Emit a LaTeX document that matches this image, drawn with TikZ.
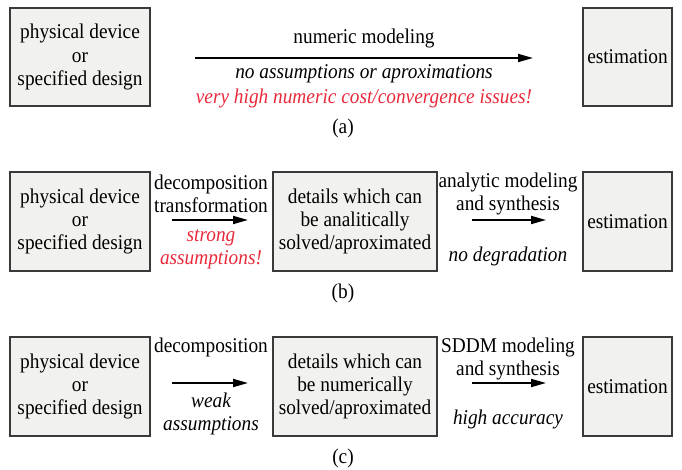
\documentclass[tikz,border=0pt]{standalone}
\usepackage{fontspec}
\setmainfont[FakeStretch=0.92]{Liberation Serif}
\usetikzlibrary{arrows.meta}
\definecolor{boxfill}{HTML}{F1F1EF}
\definecolor{boxline}{HTML}{3A3A3A}
\definecolor{warnred}{HTML}{E8293A}
\newcommand{\mysz}{\fontsize{21}{23.3}\selectfont}
\tikzset{
  box/.style={draw=boxline, fill=boxfill, line width=1.4pt, inner sep=0pt, align=center},
  lbl/.style={inner sep=0pt, align=center},
  itl/.style={lbl, font=\mysz\itshape},
  warn/.style={itl, text=warnred},
  arr/.style={line width=1.8pt, -{Triangle[length=15pt,width=8pt]}},
}
\begin{document}
\begin{tikzpicture}[x=1pt,y=-1pt,font=\mysz]
\useasboundingbox (0,0) rectangle (682,470);
% ---- (a)
\node[box, minimum width=140pt, minimum height=98pt] (aL) at (80,57) {physical device\\or\\specified design};
\node[box, minimum width=89pt, minimum height=98pt] (aE) at (627.5,57) {estimation};
\coordinate (a1) at (195,58);
\coordinate (a2) at (533,58);
\draw[arr] (a1) -- (a2);
\node[lbl] (aT) at (364,38) {numeric modeling};
\node[itl] (aB) at (364,74) {no assumptions or aproximations};
\node[warn] (aR) at (364,98) {very high numeric cost/convergence issues!};
\node[lbl] (aC) at (343,128) {(a)};
% ---- (b)
\node[box, minimum width=140pt, minimum height=99pt] (bL) at (80,221.5) {physical device\\or\\specified design};
\node[box, minimum width=164pt, minimum height=99pt] (bM) at (355,221.5) {details which can\\be analitically\\solved/aproximated};
\node[box, minimum width=89pt, minimum height=99pt] (bE) at (627.5,221.5) {estimation};
\coordinate (b1) at (172,220);
\coordinate (b2) at (248,220);
\coordinate (b3) at (472,220);
\coordinate (b4) at (546,220);
\draw[arr] (b1) -- (b2);
\draw[arr] (b3) -- (b4);
\node[lbl] (bT1) at (211,194) {decomposition\\transformation};
\node[warn] (bW1) at (211,249) {strong\\assumptions!};
\node[lbl] (bT2) at (508,194) {analytic modeling\\and synthesis};
\node[itl] (bW2) at (508,256) {no degradation};
\node[lbl] (bC) at (343,293) {(b)};
% ---- (c)
\node[box, minimum width=140pt, minimum height=99pt] (cL) at (80,386.5) {physical device\\or\\specified design};
\node[box, minimum width=164pt, minimum height=99pt] (cM) at (355,386.5) {details which can\\be numerically\\solved/aproximated};
\node[box, minimum width=89pt, minimum height=99pt] (cE) at (627.5,386.5) {estimation};
\coordinate (c1) at (172,383);
\coordinate (c2) at (248,383);
\coordinate (c3) at (472,383);
\coordinate (c4) at (546,383);
\draw[arr] (c1) -- (c2);
\draw[arr] (c3) -- (c4);
\node[lbl] (cT1) at (211,347) {decomposition};
\node[itl] (cW1) at (211,414) {weak\\assumptions};
\node[lbl] (cT2) at (508,359) {SDDM modeling\\and synthesis};
\node[itl] (cW2) at (508,419) {high accuracy};
\node[lbl] (cC) at (343,458) {(c)};
\end{tikzpicture}
\end{document}
